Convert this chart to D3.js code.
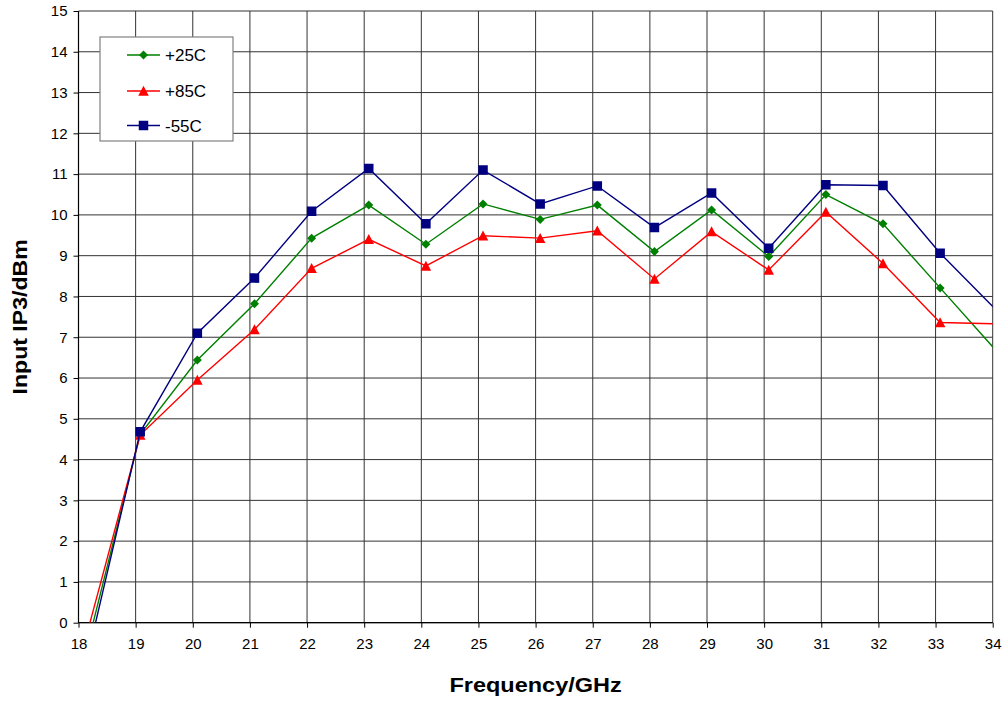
<!DOCTYPE html>
<html>
<head>
<meta charset="utf-8">
<script src="https://cdn.jsdelivr.net/npm/d3@7"></script>
<style>
  html, body { margin: 0; padding: 0; background: #fff; }
  svg { display: block; font-family: Arial, "Liberation Sans", sans-serif; }
</style>
</head>
<body>
<svg id="chart" width="1003" height="702"></svg>
<script>
// Measured frequency points (GHz)
const freqs = [18.08, 19.08, 20.08, 21.08, 22.08, 23.08, 24.08, 25.08, 26.08,
               27.08, 28.08, 29.08, 30.08, 31.08, 32.08, 33.08, 34.08];

// Input IP3 (dBm) per temperature
const ip3_p25C = [-0.99, 4.62, 6.44, 7.82, 9.43, 10.24, 9.28, 10.27, 9.89,
                  10.24, 9.10, 10.12, 8.98, 10.50, 9.78, 8.21, 6.64];
const ip3_p85C = [-0.63, 4.60, 5.95, 7.19, 8.69, 9.40, 8.75, 9.49, 9.43,
                  9.61, 8.43, 9.59, 8.65, 10.07, 8.81, 7.36, 7.33];
const ip3_m55C = [-1.31, 4.68, 7.10, 8.45, 10.09, 11.14, 9.78, 11.10, 10.27,
                  10.71, 9.69, 10.54, 9.18, 10.74, 10.72, 9.06, 7.64];

const seriesNames = ["+25C", "+85C", "-55C"];
const seriesColors = ["#008000", "#ff0000", "#000080"];
const seriesMarkers = ["diamond", "triangle", "square"];

const xTicks = d3.range(18, 35, 1);
const yTicks = d3.range(0, 16, 1);

const xTitle = "Frequency/GHz";
const yTitle = "Input IP3/dBm";

// ---- layout ----
const plot = { left: 78.5, right: 992.7, top: 11, bottom: 622.7 };

const svg = d3.select("#chart");

const x = d3.scaleLinear().domain([18, 34]).range([plot.left, plot.right]);
const y = d3.scaleLinear().domain([0, 15]).range([plot.bottom, plot.top]);

// gridlines
const grid = svg.append("g").attr("class", "grid");
grid.selectAll("line.h").data(yTicks).join("line")
  .attr("class", "h")
  .attr("x1", plot.left).attr("x2", plot.right)
  .attr("y1", d => y(d)).attr("y2", d => y(d))
  .attr("stroke", "#333").attr("stroke-width", 1);
grid.selectAll("line.v").data(xTicks).join("line")
  .attr("class", "v")
  .attr("x1", d => x(d)).attr("x2", d => x(d))
  .attr("y1", plot.top).attr("y2", plot.bottom)
  .attr("stroke", "#333").attr("stroke-width", 1);

// axes
const xAxis = svg.append("g")
  .attr("transform", `translate(0,${plot.bottom})`)
  .call(d3.axisBottom(x).tickValues(xTicks).tickFormat(d3.format("d")).tickSize(5).tickPadding(6));
const yAxis = svg.append("g")
  .attr("transform", `translate(${plot.left},0)`)
  .call(d3.axisLeft(y).tickValues(yTicks).tickFormat(d3.format("d")).tickSize(5).tickPadding(6));

[xAxis, yAxis].forEach(ax => {
  ax.select(".domain").remove();
  ax.selectAll(".tick line").attr("stroke", "#000");
  ax.selectAll(".tick text")
    .attr("fill", "#000")
    .style("font-size", "15px")
    .style("font-family", "Arial, 'Liberation Sans', sans-serif");
});
xAxis.selectAll(".tick text").attr("dy", "0.71em").attr("y", 16);

// frame lines
svg.append("line").attr("x1", plot.left).attr("x2", plot.left)
  .attr("y1", plot.top).attr("y2", plot.bottom).attr("stroke", "#000").attr("stroke-width", 1.2);
svg.append("line").attr("x1", plot.left).attr("x2", plot.right)
  .attr("y1", plot.bottom).attr("y2", plot.bottom).attr("stroke", "#000").attr("stroke-width", 1.2);

// clip to plot area
svg.append("clipPath").attr("id", "plotClip")
  .append("rect")
  .attr("x", plot.left).attr("y", plot.top)
  .attr("width", plot.right - plot.left).attr("height", plot.bottom - plot.top);

const seriesData = [ip3_p25C, ip3_p85C, ip3_m55C];

const line = d3.line().x(d => x(d.f)).y(d => y(d.v));

function markerPath(type, size) {
  const h = size / 2;
  if (type === "diamond") return `M0,${-h}L${h},0L0,${h}L${-h},0Z`;
  if (type === "square") return `M${-h},${-h}H${h}V${h}H${-h}Z`;
  // triangle
  return `M0,${-h - 0.5}L${h + 0.5},${h}L${-h - 0.5},${h}Z`;
}
const markerSize = { diamond: 9, square: 9.5, triangle: 9.5 };

const plotG = svg.append("g").attr("clip-path", "url(#plotClip)");

seriesData.forEach((vals, i) => {
  const pts = freqs.map((f, j) => ({ f, v: vals[j] }));
  plotG.append("path")
    .datum(pts)
    .attr("d", line)
    .attr("fill", "none")
    .attr("stroke", seriesColors[i])
    .attr("stroke-width", 1.4);
  plotG.selectAll(`path.m${i}`)
    .data(pts.filter(p => p.f >= 18 && p.f <= 34 && p.v >= 0 && p.v <= 15))
    .join("path")
    .attr("class", `m${i}`)
    .attr("transform", p => `translate(${x(p.f)},${y(p.v)})`)
    .attr("d", markerPath(seriesMarkers[i], markerSize[seriesMarkers[i]]))
    .attr("fill", seriesColors[i]);
});

// legend
const legend = svg.append("g");
legend.append("rect")
  .attr("x", 100).attr("y", 37).attr("width", 133).attr("height", 104)
  .attr("fill", "#fff").attr("stroke", "#808080").attr("stroke-width", 1.2);
const legendRowsY = [55, 91, 125.5];
seriesNames.forEach((name, i) => {
  const g = legend.append("g").attr("transform", `translate(0,${legendRowsY[i]})`);
  g.append("line").attr("x1", 127).attr("x2", 160).attr("y1", 0).attr("y2", 0)
    .attr("stroke", seriesColors[i]).attr("stroke-width", 1.4);
  g.append("path")
    .attr("transform", "translate(143.5,0)")
    .attr("d", markerPath(seriesMarkers[i], markerSize[seriesMarkers[i]]))
    .attr("fill", seriesColors[i]);
  g.append("text").attr("x", 165).attr("y", 0).attr("dy", "0.36em")
    .style("font-size", "17px").attr("fill", "#000").text(name);
});

// axis titles
svg.append("text")
  .attr("transform", `translate(${(plot.left + plot.right) / 2},692) scale(1.12,1)`)
  .attr("text-anchor", "middle")
  .style("font-size", "21px").style("font-weight", "bold")
  .text(xTitle);
svg.append("text")
  .attr("transform", `translate(27,${(plot.top + plot.bottom) / 2}) rotate(-90) scale(1.1,1)`)
  .attr("text-anchor", "middle")
  .style("font-size", "21px").style("font-weight", "bold")
  .text(yTitle);
</script>
</body>
</html>
